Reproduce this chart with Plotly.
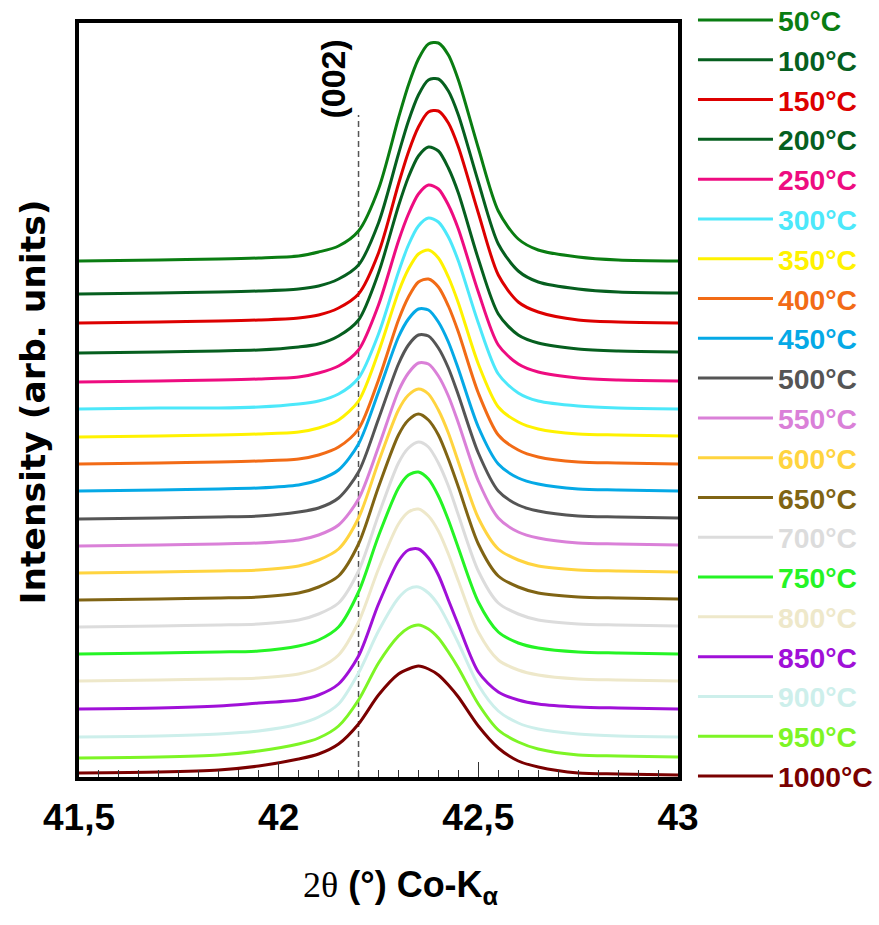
import plotly.graph_objects as go

# 2theta grid (deg)
TWO_THETA = [41.50, 41.70, 41.85, 41.95, 42.05, 42.10, 42.15, 42.20, 42.25, 42.30, 42.325,
             42.35, 42.375, 42.40, 42.425, 42.45, 42.50, 42.55, 42.60, 42.65, 42.75, 42.85, 43.00]

TEMPS = ["50°C", "100°C", "150°C", "200°C", "250°C", "300°C", "350°C", "400°C", "450°C", "500°C",
         "550°C", "600°C", "650°C", "700°C", "750°C", "800°C", "850°C", "900°C", "950°C", "1000°C"]

COLORS = ["#0A7D12", "#065F1F", "#DD0000", "#065F1F", "#EE0C80", "#4CE8FA", "#FFF200", "#F26B16",
          "#05A9E6", "#555555", "#DA80D8", "#FFD43F", "#806414", "#DCDCDC", "#25F425", "#EEE8CA",
          "#A010D8", "#CDEFEB", "#7DF525", "#7A0000"]

# stacked intensities (arb. units, vertical offsets included)
I_50 = [516, 517, 518, 519, 521, 525, 531, 546, 588, 659, 692, 718, 733, 734, 722, 697, 629, 566, 538, 527, 520, 517, 516]
I_100 = [483, 484, 485, 486, 488, 491, 498, 512, 554, 623, 656, 682, 697, 698, 686, 662, 595, 533, 506, 495, 488, 485, 484]
I_150 = [454, 455, 456, 457, 459, 462, 469, 483, 524, 593, 625, 650, 665, 666, 654, 630, 564, 502, 475, 465, 457, 455, 454]
I_200 = [424, 425, 426, 427, 430, 433, 441, 457, 504, 571, 600, 621, 630, 626, 609, 584, 518, 463, 442, 434, 428, 426, 425]
I_250 = [395, 396, 397, 398, 400, 404, 411, 427, 472, 536, 563, 583, 592, 588, 572, 548, 485, 432, 413, 405, 399, 397, 396]
I_300 = [368, 369, 369, 370, 373, 376, 383, 399, 443, 505, 532, 551, 559, 555, 540, 516, 454, 403, 384, 376, 371, 369, 368]
I_350 = [340, 341, 342, 343, 345, 349, 357, 376, 425, 485, 508, 523, 527, 519, 500, 474, 413, 370, 355, 348, 343, 342, 341]
I_400 = [313, 314, 315, 316, 318, 322, 330, 348, 397, 457, 480, 495, 498, 490, 471, 445, 384, 342, 327, 320, 315, 314, 313]
I_450 = [286, 287, 288, 289, 292, 297, 307, 333, 385, 440, 458, 468, 467, 455, 435, 408, 350, 313, 299, 293, 288, 287, 286]
I_500 = [258, 259, 260, 261, 265, 269, 279, 305, 358, 413, 432, 442, 441, 429, 409, 382, 324, 286, 272, 266, 261, 260, 259]
I_550 = [231, 232, 233, 234, 237, 242, 252, 278, 330, 386, 404, 414, 413, 401, 381, 354, 296, 259, 245, 239, 234, 233, 232]
I_600 = [204, 205, 206, 207, 211, 217, 228, 259, 315, 367, 382, 388, 383, 367, 344, 315, 259, 228, 217, 211, 207, 206, 205]
I_650 = [177, 178, 179, 180, 184, 190, 201, 233, 290, 342, 357, 363, 357, 342, 318, 290, 233, 201, 190, 184, 180, 179, 178]
I_700 = [150, 151, 152, 153, 157, 163, 174, 206, 262, 314, 329, 335, 330, 314, 291, 262, 206, 174, 163, 157, 153, 152, 151]
I_750 = [123, 124, 125, 126, 131, 137, 150, 185, 241, 289, 302, 305, 298, 281, 257, 229, 175, 145, 134, 129, 125, 124, 123]
I_800 = [96, 97, 98, 99, 103, 109, 122, 155, 208, 253, 265, 268, 261, 246, 223, 196, 145, 117, 107, 102, 98, 97, 96]
I_850 = [68, 69, 71, 74, 77, 82, 93, 121, 173, 216, 227, 228, 219, 202, 177, 152, 105, 85, 77, 73, 70, 69, 68]
I_900 = [40, 41, 43, 46, 53, 60, 73, 104, 146, 179, 188, 190, 184, 172, 154, 134, 92, 66, 54, 48, 43, 41, 40]
I_950 = [19, 20, 22, 26, 33, 39, 51, 77, 114, 141, 149, 152, 148, 139, 125, 109, 73, 47, 35, 28, 22, 21, 20]
I_1000 = [4, 5, 7, 11, 18, 23, 33, 53, 82, 103, 108, 111, 108, 102, 92, 80, 51, 29, 16, 10, 4, 3, 2]

SERIES = [I_50, I_100, I_150, I_200, I_250, I_300, I_350, I_400, I_450, I_500,
          I_550, I_600, I_650, I_700, I_750, I_800, I_850, I_900, I_950, I_1000]

# (002) reference position
REF_X = [42.2, 42.2]
REF_Y = [0, 662]
REF_LABEL = "(002)"

X_TICKS = [41.5, 42.0, 42.5, 43.0]
X_TICKTEXT = ["41,5", "42", "42,5", "43"]

SANS = "Liberation Sans, Arial, sans-serif"

fig = go.Figure()

fig.add_trace(go.Scatter(x=REF_X, y=REF_Y, mode="lines", showlegend=False, hoverinfo="skip",
                         line=dict(color="#555555", width=1.5, dash="6px,4px")))

for name, col, ys in zip(TEMPS, COLORS, SERIES):
    fig.add_trace(go.Scatter(
        x=TWO_THETA, y=ys, mode="lines",
        name=f"<span style='color:{col}'>{name}</span>",
        line=dict(color=col, width=3, shape="spline", smoothing=0.8),
    ))

fig.add_annotation(x=42.135, y=698, xref="x", yref="y", text=REF_LABEL, textangle=-90,
                   showarrow=False, xanchor="center", yanchor="middle",
                   font=dict(family=SANS, size=34, color="black", weight="bold"))

fig.add_annotation(x=-0.077, y=0.498, xref="paper", yref="paper", text="Intensity (arb. units)",
                   textangle=-90, showarrow=False, xanchor="center", yanchor="middle",
                   font=dict(family="DejaVu Sans, sans-serif", size=34.5, color="black", weight="bold"))

fig.add_annotation(x=0.5376, y=-0.1127, xref="paper", yref="paper",
                   text="<span style='font-family:Liberation Serif;font-weight:normal'>2θ</span> (°) Co-K<sub>α</sub>",
                   showarrow=False, xanchor="center", yanchor="top",
                   font=dict(family=SANS, size=36, color="black", weight="bold"))

fig.update_layout(
    width=879, height=925,
    margin=dict(l=79, r=201, t=23, b=148, autoexpand=False),
    paper_bgcolor="white", plot_bgcolor="white",
    showlegend=True,
    legend=dict(x=1.025, y=1.037, xanchor="left", yanchor="top",
                font=dict(family=SANS, size=28.3, color="black", weight="bold"),
                bgcolor="rgba(0,0,0,0)", borderwidth=0, itemwidth=75,
                tracegroupgap=0, maxheight=920),
    xaxis=dict(range=[41.5, 43.0], tickvals=X_TICKS, ticktext=X_TICKTEXT,
               ticks="inside", ticklen=15, tickwidth=1, tickcolor="#333333",
               minor=dict(dtick=0.05, ticks="inside", ticklen=7, tickwidth=1, tickcolor="#333333"),
               showline=True, linewidth=4, linecolor="black", mirror=True,
               showgrid=False, zeroline=False, ticklabelstandoff=5,
               tickfont=dict(family=SANS, size=37, color="black", weight="bold")),
    yaxis=dict(range=[0, 754], showticklabels=False, ticks="",
               showline=True, linewidth=4, linecolor="black", mirror=True,
               showgrid=False, zeroline=False),
)

fig.write_html("out.html", config={"displayModeBar": False},
               post_script="document.body.style.margin='0px';")
